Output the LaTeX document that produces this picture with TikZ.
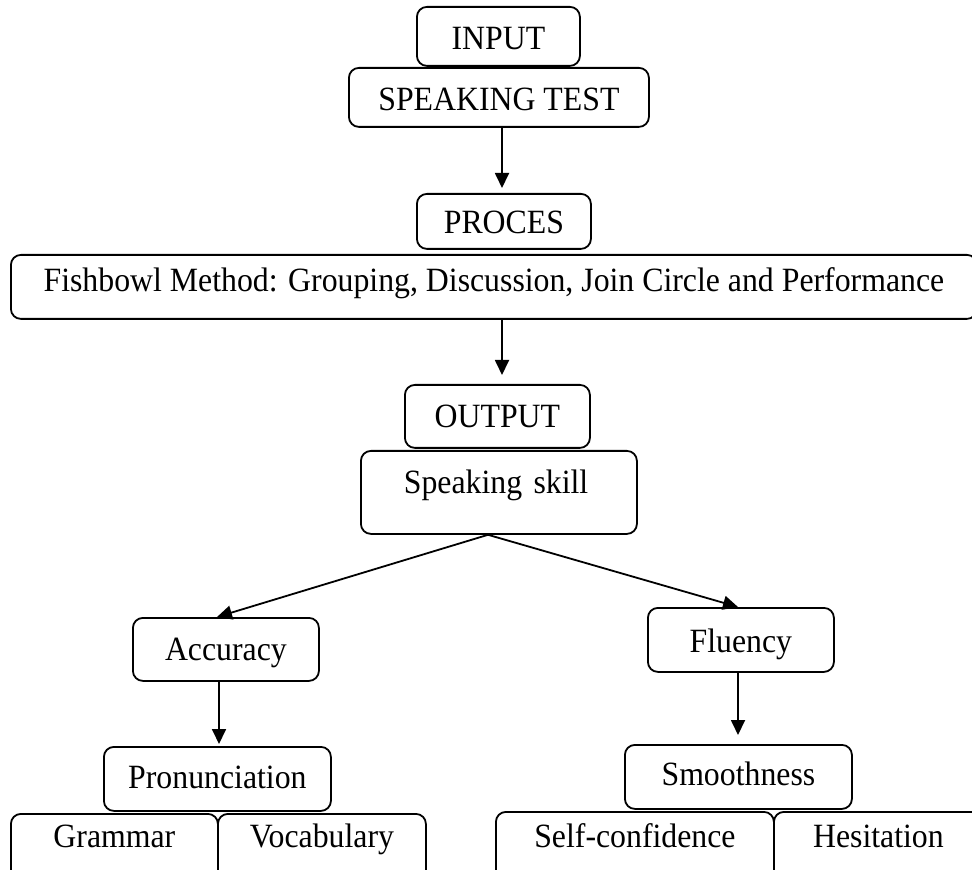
\documentclass[tikz,border=0pt]{standalone}
\usepackage{fontspec}
\setmainfont{Liberation Serif}[FakeStretch=0.935]
\usetikzlibrary{arrows.meta}
\tikzset{
  box/.style={draw, rounded corners=5pt, line width=0.9pt, inner sep=0pt, anchor=north west, align=center, font=\fontsize{17}{20}\selectfont},
  arr/.style={line width=0.9pt, -{Triangle[length=7.5pt,width=7pt]}}
}
\newcommand\mybox[7]{%
  \pgfmathsetmacro\bw{(#4-#2)*0.5}%
  \pgfmathsetmacro\bh{(#6-#3)*0.5}%
  \pgfmathsetmacro\bd{(#5-#6)*0.5}%
  \node[box, minimum width=\bw pt, text height=\bh pt, text depth=\bd pt] (#1) at (#2,#3) {#7};}
\begin{document}
\begin{tikzpicture}[x=0.5pt,y=-0.5pt]
\useasboundingbox (0,0) rectangle (972,870);
\clip (0,0) rectangle (972,870);
\mybox{inp}{416}{6}{579}{65}{49}{INPUT}
\mybox{st}{348}{67}{648}{126}{110}{SPEAKING TEST}
\mybox{proc}{416}{193}{590}{248}{233}{PROCES}
\mybox{fish}{10}{254}{976}{318}{291}{Fishbowl Method: Grouping, Discussion, Join Circle and Performance}
\mybox{out}{404}{384}{589}{447}{427}{OUTPUT}
\node[box, inner xsep=21.5pt, text width=95pt, align=left, text height=21.5pt, text depth=20pt] (sk) at (360,450) {Speaking skill};
\mybox{acc}{132}{617}{318}{680}{660}{Accuracy}
\mybox{flu}{647}{607}{833}{671}{652}{Fluency}
\mybox{pro}{103}{746}{330}{810}{788}{Pronunciation}
\mybox{gra}{10}{813}{217}{885}{847}{Grammar}
\mybox{voc}{217}{813}{425}{885}{847}{Vocabulary}
\mybox{smo}{624}{744}{851}{808}{785}{Smoothness}
\mybox{sel}{495}{811}{773}{885}{847}{Self-confidence}
\mybox{hes}{773}{811}{982}{885}{847}{Hesitation}
\coordinate (a1) at (502,0);
\coordinate (a2) at (488,0);
\coordinate (a3) at (219,0);
\coordinate (a4) at (738,0);
\coordinate (t1) at (217,617);
\coordinate (t2) at (738,607);
\draw[arr] (st.south -| a1) -- ([yshift=2.5pt]proc.north -| a1);
\draw[arr] (fish.south -| a1) -- ([yshift=4.5pt]out.north -| a1);
\draw[arr] (sk.south -| a2) -- (t1);
\draw[arr] (sk.south -| a2) -- (t2);
\draw[arr] (acc.south -| a3) -- ([yshift=1pt]pro.north -| a3);
\draw[arr] (flu.south -| a4) -- ([yshift=4.5pt]smo.north -| a4);
\end{tikzpicture}
\end{document}
